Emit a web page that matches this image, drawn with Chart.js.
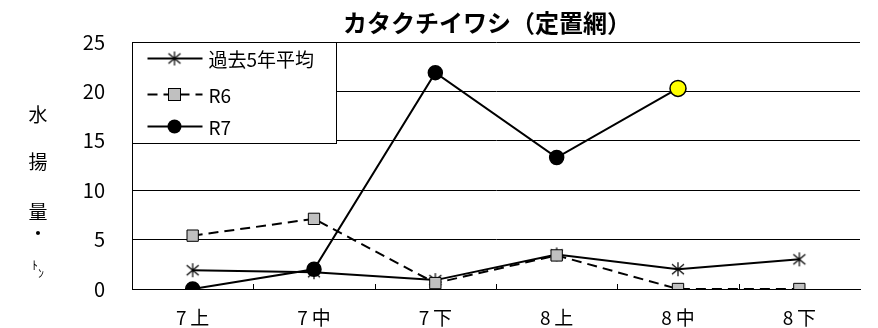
<!DOCTYPE html>
<html lang="ja">
  <head>
    <meta charset="UTF-8" />
    <script src="https://cdn.jsdelivr.net/npm/chart.js@4.4.1/dist/chart.umd.min.js"></script>
    <title>カタクチイワシ（定置網）</title>
    <style>
      body { margin: 0; background: #fff; }
      #myChart { display: block; }
    </style>
  </head>
  <body>
    <canvas id="myChart" width="878" height="328"></canvas>
    <script>
      // データ
      const labels = ["7上", "7中", "7下", "8上", "8中", "8下"];
      const avg5 = [1.9, 1.7, 0.9, 3.5, 2.0, 3.0];
      const r6 = [5.4, 7.1, 0.6, 3.4, 0, 0];
      const r7 = [0, 2.0, 21.9, 13.3, 20.3, null];
      const seriesNames = ["過去5年平均", "R6", "R7"];
      const yTicks = [0, 5, 10, 15, 20, 25];
      const chartTitle = "カタクチイワシ（定置網）";

      const FONT = "'Noto Sans CJK JP', 'Noto Sans', sans-serif";

      // アスタリスク型マーカー
      const star = document.createElement("canvas");
      star.width = 16;
      star.height = 16;
      const sc = star.getContext("2d");
      sc.strokeStyle = "#000";
      sc.lineWidth = 1.2;
      sc.beginPath();
      sc.moveTo(8, 1); sc.lineTo(8, 15);
      sc.moveTo(2, 3); sc.lineTo(14, 13);
      sc.moveTo(2, 13); sc.lineTo(14, 3);
      sc.stroke();

      // R7 の最新値だけ黄色
      const r7Colors = r7.map((v, i) => (i === 4 ? "#ffff00" : "#000"));
      const r7Radius = r7.map((v, i) => (i === 4 ? 8 : 7));

      const extras = {
        id: "extras",
        afterDraw(chart) {
          const ctx = chart.ctx;
          const a = chart.chartArea;
          const x = chart.scales.x;
          ctx.save();

          // タイトル
          ctx.fillStyle = "#000";
          ctx.textAlign = "center";
          ctx.textBaseline = "middle";
          ctx.font = "bold 24px " + FONT;
          ctx.fillText(chartTitle, (a.left + a.right) / 2 - 9, 23);

          // x軸の内向き目盛
          ctx.strokeStyle = "#000";
          ctx.lineWidth = 1;
          ctx.beginPath();
          for (let i = 0; i < labels.length - 1; i++) {
            const px = Math.round((x.getPixelForValue(i) + x.getPixelForValue(i + 1)) / 2) + 0.5;
            ctx.moveTo(px, a.bottom);
            ctx.lineTo(px, a.bottom - 5);
          }
          ctx.stroke();

          // 凡例
          const lx = a.left + 0.5, ly = a.top + 0.5;
          ctx.fillStyle = "#fff";
          ctx.fillRect(lx, ly, 204, 101);
          ctx.strokeRect(lx, ly, 204, 101);
          const rows = [16, 52, 84];
          ctx.font = "19px " + FONT;
          ctx.textAlign = "left";
          rows.forEach((dy, i) => {
            const y = ly + dy;
            const x0 = lx + 15, x1 = lx + 70, cx = lx + 42;
            ctx.strokeStyle = "#000";
            ctx.lineWidth = 2;
            ctx.setLineDash(i === 1 ? [10, 6] : []);
            ctx.beginPath();
            ctx.moveTo(x0, y);
            ctx.lineTo(x1, y);
            ctx.stroke();
            ctx.setLineDash([]);
            if (i === 0) {
              ctx.drawImage(star, cx - 8, y - 8);
            } else if (i === 1) {
              ctx.fillStyle = "#c0c0c0";
              ctx.fillRect(cx - 6, y - 6, 12, 12);
              ctx.lineWidth = 1;
              ctx.strokeRect(cx - 6, y - 6, 12, 12);
            } else {
              ctx.fillStyle = "#000";
              ctx.beginPath();
              ctx.arc(cx, y, 7, 0, Math.PI * 2);
              ctx.fill();
            }
            ctx.fillStyle = "#000";
            ctx.fillText(seriesNames[i], lx + 76, y + 1);
          });

          // 縦軸タイトル
          ctx.textAlign = "center";
          ctx.font = "19px " + FONT;
          const tx = 38;
          ctx.fillText("水", tx, 115);
          ctx.fillText("揚", tx, 162);
          ctx.fillText("量", tx, 212);
          ctx.fillText("・", tx, 234);
          ctx.font = "12px " + FONT;
          ctx.fillText("ﾄ", tx - 3, 265);
          ctx.fillText("ﾝ", tx + 3, 273);
          ctx.restore();
        },
      };

      const data = {
        labels: labels,
        datasets: [
          {
            label: seriesNames[0],
            data: avg5,
            borderColor: "#000",
            borderWidth: 2,
            pointStyle: star,
            order: 2,
          },
          {
            label: seriesNames[1],
            data: r6,
            borderColor: "#000",
            borderWidth: 2,
            borderDash: [10, 6],
            pointStyle: "rect",
            pointRadius: 8,
            pointBackgroundColor: "#c0c0c0",
            pointBorderColor: "#000",
            pointBorderWidth: 1,
            order: 1,
          },
          {
            label: seriesNames[2],
            data: r7,
            borderColor: "#000",
            borderWidth: 2,
            pointStyle: "circle",
            pointRadius: r7Radius,
            pointBackgroundColor: r7Colors,
            pointBorderColor: "#000",
            pointBorderWidth: 1.5,
            order: 0,
          },
        ],
      };

      const config = {
        type: "line",
        data: data,
        plugins: [extras],
        options: {
          responsive: false,
          animation: false,
          layout: { padding: { left: 0, right: 18, top: 42, bottom: 0 } },
          elements: { line: { tension: 0 }, point: { hoverRadius: 7 } },
          plugins: {
            legend: { display: false },
            tooltip: { enabled: false },
            title: { display: false },
          },
          scales: {
            x: {
              offset: true,
              grid: { display: false },
              border: { display: true, color: "#000", width: 1 },
              ticks: {
                color: "#000",
                font: { family: FONT, size: 19 },
                padding: 9,
                callback: (v, i) => labels[i].replace(/^(\d)/, "$1\u2009"),
              },
              afterFit: (s) => { s.height = 38; },
            },
            y: {
              min: 0,
              max: 25,
              afterBuildTicks: (s) => { s.ticks = yTicks.map((v) => ({ value: v })); },
              grid: { color: "#000", lineWidth: 1, drawTicks: false },
              border: { display: true, color: "#000", width: 1 },
              ticks: { color: "#000", font: { family: FONT, size: 20 }, padding: 27 },
              afterFit: (s) => { s.width = 132; },
            },
          },
        },
      };

      const myChart = new Chart(document.getElementById("myChart"), config);
    </script>
  </body>
</html>
